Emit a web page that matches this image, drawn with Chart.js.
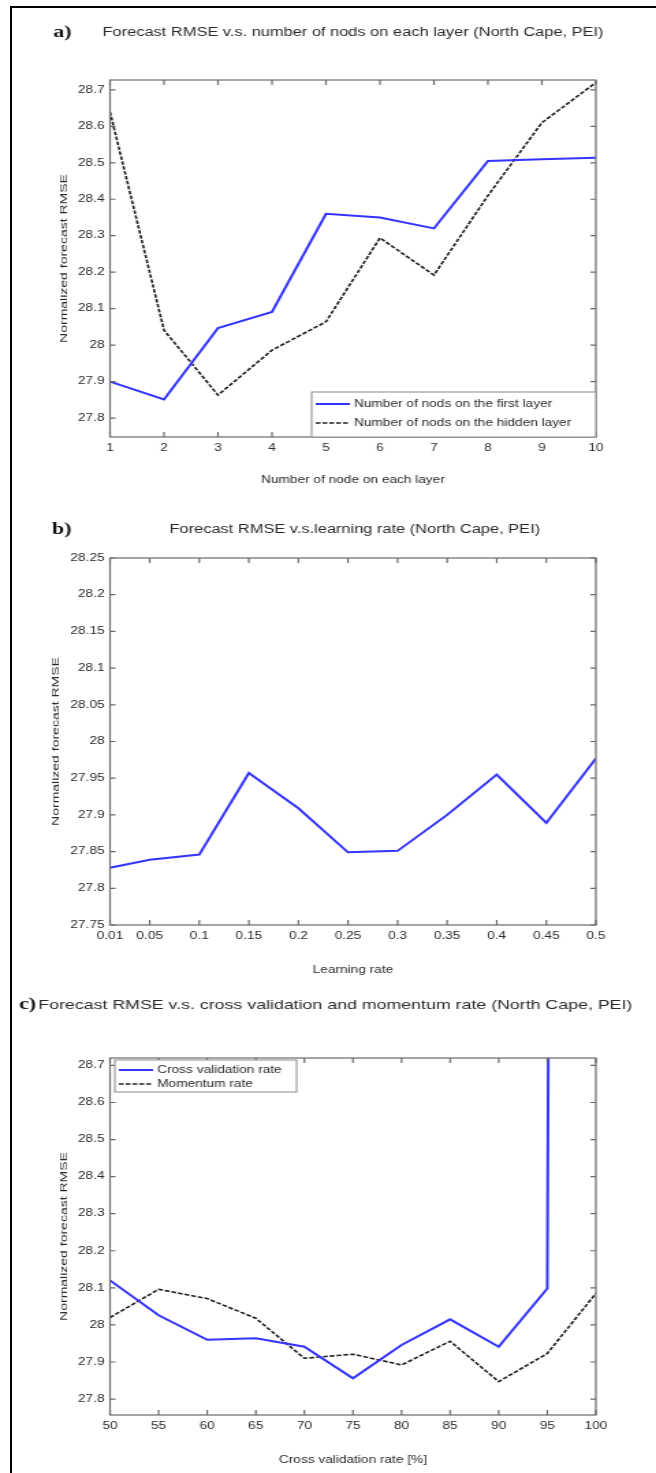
<!DOCTYPE html>
<html>
<head>
<meta charset="utf-8">
<script src="https://cdn.jsdelivr.net/npm/chart.js@4.4.1/dist/chart.umd.min.js"></script>
<style>
  body { margin: 0; background: #fff; }
  #hoja { position: relative; width: 656px; height: 1473px; overflow: hidden; background: #fff; }
  #marco { position: absolute; left: 10px; top: 6px; width: 660px; height: 1500px; border-left: 2px solid #000; border-top: 2px solid #000; }
  canvas { position: absolute; left: 0; }
</style>
</head>
<body>
<div id="hoja">
  <div id="marco"></div>
  <canvas id="panelA" width="480" height="495" style="top:0;width:656px;height:495px"></canvas>
  <canvas id="panelB" width="480" height="495" style="top:495px;width:656px;height:495px"></canvas>
  <canvas id="panelC" width="480" height="483" style="top:990px;width:656px;height:483px"></canvas>
</div>
<script>
// a) RMSE frente al numero de nodos por capa
const nodos = [1, 2, 3, 4, 5, 6, 7, 8, 9, 10];
const rmsePrimeraCapa = [27.90, 27.851, 28.047, 28.091, 28.36, 28.35, 28.32, 28.505, 28.51, 28.514];
const rmseCapaOculta = [28.639, 28.041, 27.863, 27.986, 28.064, 28.294, 28.192, 28.41, 28.61, 28.72];
const ticksYA = [27.8, 27.9, 28, 28.1, 28.2, 28.3, 28.4, 28.5, 28.6, 28.7];
const etiquetasYA = ['27.8', '27.9', '28', '28.1', '28.2', '28.3', '28.4', '28.5', '28.6', '28.7'];
const etiquetasXA = ['1', '2', '3', '4', '5', '6', '7', '8', '9', '10'];

// b) RMSE frente a la tasa de aprendizaje
const tasaAprendizaje = [0.01, 0.05, 0.1, 0.15, 0.2, 0.25, 0.3, 0.35, 0.4, 0.45, 0.5];
const rmseAprendizaje = [27.828, 27.839, 27.846, 27.957, 27.909, 27.849, 27.851, 27.9, 27.955, 27.889, 27.977];
const ticksYB = [27.75, 27.8, 27.85, 27.9, 27.95, 28, 28.05, 28.1, 28.15, 28.2, 28.25];
const etiquetasYB = ['27.75', '27.8', '27.85', '27.9', '27.95', '28', '28.05', '28.1', '28.15', '28.2', '28.25'];
const etiquetasXB = ['0.01', '0.05', '0.1', '0.15', '0.2', '0.25', '0.3', '0.35', '0.4', '0.45', '0.5'];

// c) RMSE frente a validacion cruzada y momento
const tasaValidacion = [50, 55, 60, 65, 70, 75, 80, 85, 90, 95, 100];
const rmseValidacion = [28.12, 28.026, 27.96, 27.964, 27.941, 27.856, 27.946, 28.015, 27.941, 28.098, 60];
const rmseMomento = [28.02, 28.096, 28.071, 28.018, 27.91, 27.921, 27.892, 27.956, 27.847, 27.923, 28.085];
const ticksYC = [27.8, 27.9, 28, 28.1, 28.2, 28.3, 28.4, 28.5, 28.6, 28.7];
const etiquetasYC = ['27.8', '27.9', '28', '28.1', '28.2', '28.3', '28.4', '28.5', '28.6', '28.7'];
const etiquetasXC = ['50', '55', '60', '65', '70', '75', '80', '85', '90', '95', '100'];

const AZUL = 'rgb(52, 52, 255)';
const NEGRO = '#1e1e1e';
const TEXTO = '#2a2a2a';

// letra del panel, titulo y rotulo del eje y
const cabecera = {
    id: 'cabecera',
    afterDraw(chart, args, o) {
        const ctx = chart.ctx;
        const area = chart.chartArea;
        ctx.save();
        ctx.fillStyle = '#111';
        ctx.textBaseline = 'middle';
        ctx.textAlign = 'left';
        ctx.font = 'bold 16px "Liberation Serif"';
        ctx.fillText(o.letra, o.letraX, o.y);
        ctx.fillStyle = TEXTO;
        ctx.font = o.fuente + 'px "Liberation Sans"';
        ctx.fillText(o.titulo, o.tituloX, o.y);
        // rotulo vertical, alargado como en la figura original
        ctx.translate(o.rotuloX, (area.top + area.bottom) / 2);
        ctx.rotate(-Math.PI / 2);
        ctx.scale(1.4, 0.72);
        ctx.textAlign = 'center';
        ctx.font = '10px "Liberation Sans"';
        ctx.fillText('Normalized forecast RMSE', 0, 0);
        ctx.restore();
    }
};

// caja de ejes con marcas hacia dentro en los cuatro lados
const caja = {
    id: 'caja',
    afterDatasetsDraw(chart) {
        const {ctx, chartArea: a, scales: {x, y}} = chart;
        ctx.save();
        ctx.strokeStyle = '#6a6a6a';
        ctx.lineWidth = 1.2;
        ctx.strokeRect(a.left, a.top, a.right - a.left, a.bottom - a.top);
        ctx.beginPath();
        x.ticks.forEach(t => {
            const px = x.getPixelForValue(t.value);
            ctx.moveTo(px, a.bottom); ctx.lineTo(px, a.bottom - 5);
            ctx.moveTo(px, a.top); ctx.lineTo(px, a.top + 5);
        });
        y.ticks.forEach(t => {
            const py = y.getPixelForValue(t.value);
            ctx.moveTo(a.left, py); ctx.lineTo(a.left + 4, py);
            ctx.moveTo(a.right, py); ctx.lineTo(a.right - 4, py);
        });
        ctx.stroke();
        ctx.restore();
    }
};

// leyenda dibujada dentro del area del grafico
const leyenda = {
    id: 'leyenda',
    afterDraw(chart, args, o) {
        if (!o.ancho) return;
        const {ctx, chartArea: a} = chart;
        const bx = o.lado === 'derecha' ? a.right - o.ancho : a.left + o.dx;
        const by = o.lado === 'derecha' ? a.bottom - o.alto : a.top + o.dy;
        ctx.save();
        ctx.fillStyle = '#fff';
        ctx.fillRect(bx, by, o.ancho, o.alto);
        ctx.strokeStyle = '#8a8a8a';
        ctx.lineWidth = 1;
        ctx.strokeRect(bx, by, o.ancho, o.alto);
        ctx.font = '10px "Liberation Sans"';
        ctx.textBaseline = 'middle';
        ctx.textAlign = 'left';
        chart.data.datasets.forEach((ds, i) => {
            const fy = by + o.fila0 + i * o.paso;
            ctx.strokeStyle = ds.borderColor;
            ctx.lineWidth = ds.borderWidth;
            ctx.setLineDash(ds.borderDash || []);
            ctx.beginPath();
            ctx.moveTo(bx + 3, fy);
            ctx.lineTo(bx + 28, fy);
            ctx.stroke();
            ctx.setLineDash([]);
            ctx.fillStyle = TEXTO;
            ctx.fillText(ds.label, bx + 31, fy);
        });
        ctx.restore();
    }
};

function crearPanel(id, cfg) {
    const ctx = document.getElementById(id).getContext('2d');
    return new Chart(ctx, {
        type: 'line',
        data: {
            datasets: cfg.series.map(s => ({
                label: s.nombre,
                data: cfg.xs.map((x, i) => ({x: x, y: s.valores[i]})),
                borderColor: s.color,
                borderWidth: s.grosor,
                borderDash: s.trazo,
                pointRadius: 0,
                tension: 0,
                fill: false
            }))
        },
        options: {
            responsive: false,
            animation: false,
            layout: {padding: cfg.margen},
            plugins: {
                legend: {display: false},
                tooltip: {enabled: false},
                cabecera: cfg.cabecera,
                leyenda: cfg.leyenda || {}
            },
            scales: {
                x: {
                    type: 'linear',
                    min: cfg.xs[0],
                    max: cfg.xs[cfg.xs.length - 1],
                    afterBuildTicks: s => { s.ticks = cfg.xs.map(v => ({value: v})); },
                    afterFit: s => { s.height = cfg.altoX; },
                    grid: {display: false, drawTicks: false},
                    border: {display: false},
                    ticks: {
                        autoSkip: false, maxRotation: 0, padding: 5,
                        color: TEXTO, font: {family: 'Liberation Sans', size: 10},
                        callback: (v, i) => cfg.etiquetasX[i]
                    },
                    title: {
                        display: true, text: cfg.tituloX, color: TEXTO, padding: 0,
                        font: {family: 'Liberation Sans', size: 10}
                    }
                },
                y: {
                    min: cfg.rangoY[0],
                    max: cfg.rangoY[1],
                    afterBuildTicks: s => { s.ticks = cfg.ticksY.map(v => ({value: v})); },
                    afterFit: s => { s.width = 80.5; },
                    grid: {display: false, drawTicks: false},
                    border: {display: false},
                    ticks: {
                        autoSkip: false, padding: 4,
                        color: TEXTO, font: {family: 'Liberation Sans', size: 10},
                        callback: (v, i) => cfg.etiquetasY[i]
                    }
                }
            }
        },
        plugins: [cabecera, caja, leyenda]
    });
}

crearPanel('panelA', {
    xs: nodos,
    series: [
        {nombre: 'Number of nods on the first layer', valores: rmsePrimeraCapa, color: AZUL, grosor: 2, trazo: []},
        {nombre: 'Number of nods on the hidden layer', valores: rmseCapaOculta, color: NEGRO, grosor: 1.6, trazo: [3.5, 1.5]}
    ],
    rangoY: [27.748, 28.727],
    ticksY: ticksYA, etiquetasY: etiquetasYA, etiquetasX: etiquetasXA,
    tituloX: 'Number of node on each layer',
    margen: {top: 80, right: 44, bottom: 9, left: 0},
    altoX: 49,
    cabecera: {letra: 'a)', letraX: 39, titulo: 'Forecast RMSE v.s. number of nods on each layer (North Cape, PEI)', tituloX: 75, fuente: 12, y: 33, rotuloX: 47.5},
    leyenda: {lado: 'derecha', ancho: 208, alto: 45, fila0: 12, paso: 19}
});

crearPanel('panelB', {
    xs: tasaAprendizaje,
    series: [
        {nombre: 'Learning rate', valores: rmseAprendizaje, color: AZUL, grosor: 2, trazo: []}
    ],
    rangoY: [27.75, 28.25],
    ticksY: ticksYB, etiquetasY: etiquetasYB, etiquetasX: etiquetasXB,
    tituloX: 'Learning rate',
    margen: {top: 63, right: 44, bottom: 14, left: 0},
    altoX: 51,
    cabecera: {letra: 'b)', letraX: 38, titulo: 'Forecast RMSE v.s.learning rate (North Cape, PEI)', tituloX: 124, fuente: 12, y: 35, rotuloX: 41.5}
});

crearPanel('panelC', {
    xs: tasaValidacion,
    series: [
        {nombre: 'Cross validation rate', valores: rmseValidacion, color: AZUL, grosor: 2, trazo: []},
        {nombre: 'Momentum rate', valores: rmseMomento, color: NEGRO, grosor: 1.6, trazo: [3.5, 1.5]}
    ],
    rangoY: [27.757, 28.72],
    ticksY: ticksYC, etiquetasY: etiquetasYC, etiquetasX: etiquetasXC,
    tituloX: 'Cross validation rate [%]',
    margen: {top: 68, right: 44, bottom: 7, left: 0},
    altoX: 51,
    cabecera: {letra: 'c)', letraX: 14, titulo: 'Forecast RMSE v.s. cross validation and momentum rate (North Cape, PEI)', tituloX: 28, fuente: 13, y: 15, rotuloX: 47.5},
    leyenda: {lado: 'izquierda', dx: 3.5, dy: 2, ancho: 133, alto: 32, fila0: 10, paso: 14}
});
</script>
</body>
</html>
